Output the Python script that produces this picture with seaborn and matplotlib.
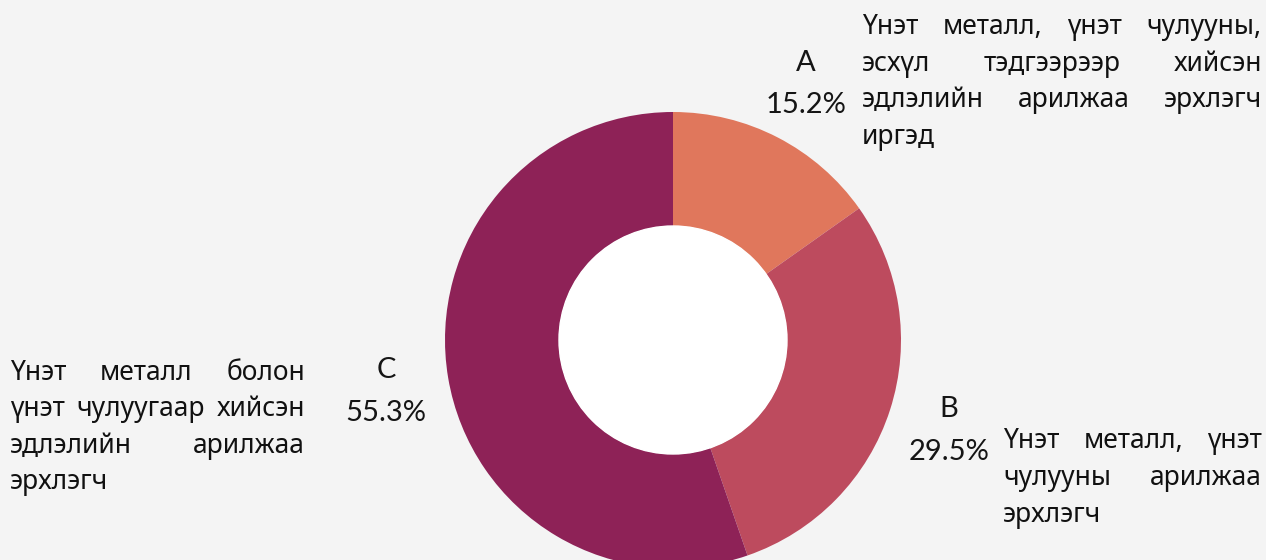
import seaborn as sns
import matplotlib
matplotlib.use("Agg")
from matplotlib import pyplot as plt

# chart data
letters = ["A", "B", "C"]
shares = [15.2, 29.5, 55.3]
slice_colors = ["#E0775C", "#BD4B5E", "#8E2257"]
desc_a = ["Үнэт металл, үнэт чулууны,", "эсхүл тэдгээрээр хийсэн",
          "эдлэлийн арилжаа эрхлэгч", "иргэд"]
desc_b = ["Үнэт металл, үнэт", "чулууны арилжаа", "эрхлэгч"]
desc_c = ["Үнэт металл болон", "үнэт чулуугаар хийсэн",
          "эдлэлийн арилжаа", "эрхлэгч"]

W, H = 1266, 560
BG = "#F4F4F4"

sns.set_theme(style="white", rc={"figure.facecolor": BG, "axes.facecolor": BG})
plt.rcParams['font.family'] = ['Noto Sans', 'DejaVu Sans']

fig = plt.figure(figsize=(W / 100, H / 100), dpi=100)
ax = fig.add_axes([445 / W, -8 / H, 456 / W, 456 / H])
ax.pie(shares, colors=slice_colors, startangle=90, counterclock=False,
       wedgeprops=dict(width=0.5, linewidth=0))
ax.add_patch(plt.Circle((0, 0), 0.5, color="white", zorder=5))
ax.set_xlim(-1, 1)
ax.set_ylim(-1, 1)
ax.set_aspect("equal")
ax.axis("off")

renderer = fig.canvas.get_renderer()
DESC_SIZE = 19


def word_width(word):
    t = fig.text(0, 0, word, fontsize=DESC_SIZE)
    w = t.get_window_extent(renderer).width
    t.remove()
    return w


def justified(lines, x0, x1, y_first, step):
    # x/y in pixels from the top-left corner
    space = word_width("a a") - word_width("aa")
    for i, line in enumerate(lines):
        words = line.split()
        widths = [word_width(w) for w in words]
        last = i == len(lines) - 1
        if last or len(words) == 1:
            gap = space
        else:
            gap = (x1 - x0 - sum(widths)) / (len(words) - 1)
        x = x0
        y = y_first + i * step
        for w, ww in zip(words, widths):
            fig.text(x / W, 1 - y / H, w, fontsize=DESC_SIZE, va="baseline", ha="left", color="#111111")
            x += ww + gap


def pct_label(letter, value, xc, y_letter, y_pct):
    kw = dict(fontsize=21, ha="center", va="baseline", color="#151515",
              family=["Lato", "DejaVu Sans"])
    fig.text(xc / W, 1 - y_letter / H, letter, **kw)
    fig.text(xc / W, 1 - y_pct / H, f"{value}%", **kw)


pct_label(letters[0], shares[0], 806, 71, 113)
pct_label(letters[1], shares[1], 949, 417, 460)
pct_label(letters[2], shares[2], 386, 378, 421)

justified(desc_a, 862, 1262, 34, 36.6)
justified(desc_b, 1003, 1262, 448, 37)
justified(desc_c, 10, 305, 380, 36.3)

fig.savefig("out.png", dpi=100, facecolor=BG)
